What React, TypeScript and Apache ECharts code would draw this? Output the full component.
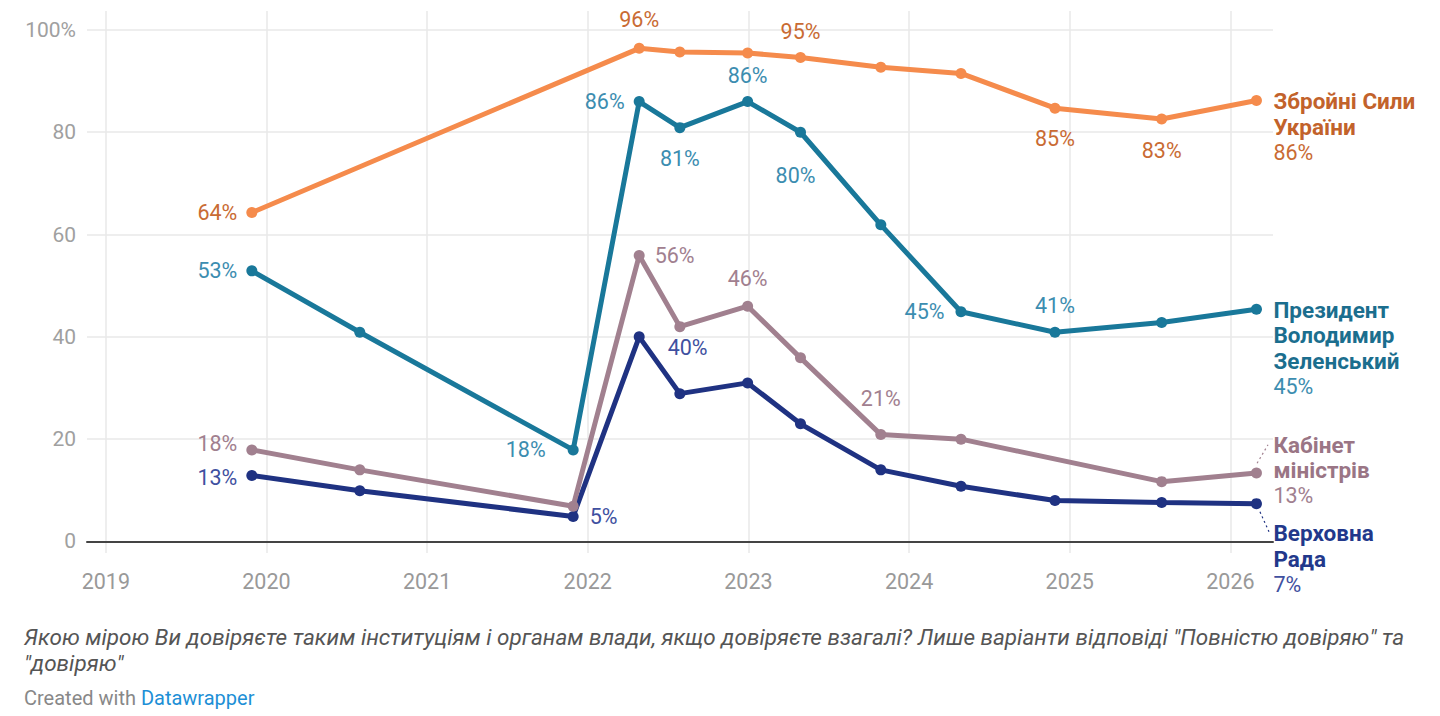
import React, { useEffect, useRef } from 'react';
import * as echarts from 'echarts';

// ---- data ----
const surveyDates = [2019.909, 2020.581, 2021.909, 2022.32, 2022.573, 2022.995, 2023.324, 2023.824, 2024.323, 2024.908, 2025.572, 2026.162];
const armyValues = [64.3, null, null, 96.4, 95.7, 95.5, 94.6, 92.7, 91.5, 84.7, 82.6, 86.2];
const presidentValues = [52.9, 40.9, 17.9, 86.0, 80.9, 86.0, 80.0, 61.9, 44.9, 40.9, 42.8, 45.4];
const cabinetValues = [17.9, 14.0, 6.9, 55.9, 42.0, 46.0, 35.9, 20.9, 20.0, null, 11.7, 13.4];
const radaValues = [12.9, 9.9, 4.9, 40.0, 28.9, 31.0, 23.0, 14.0, 10.8, 8.0, 7.6, 7.4];

const xTicks = [2019, 2020, 2021, 2022, 2023, 2024, 2025, 2026];
const yTicks = [0, 20, 40, 60, 80, 100];

const endLabelLines = [
  ['Збройні Сили', 'України'],
  ['Президент', 'Володимир', 'Зеленський'],
  ['Кабінет', 'міністрів'],
  ['Верховна', 'Рада'],
];
const captionLines = [
  'Якою мірою Ви довіряєте таким інституціям і органам влади, якщо довіряєте взагалі? Лише варіанти відповіді "Повністю довіряю" та',
  '"довіряю"',
];
const creditPrefix = 'Created with ';
const creditLink = 'Datawrapper';

// ---- layout / style ----
const FONT = 'Roboto, "Noto Sans", sans-serif';
const LABEL_SIZE = 21.5;
const styles = [
  { line: '#f58b4c', label: '#c96b33', name: '#c2622b', pct: '#c96b33' },
  { line: '#19789a', label: '#3c8db0', name: '#1b6e8e', pct: '#3c8db0' },
  { line: '#a1808f', label: '#a1808f', name: '#9a7585', pct: '#a1808f' },
  { line: '#1f3282', label: '#4050a0', name: '#22388b', pct: '#4050a0' },
];
// index -> [position, distance, dx, dy]
const labelPlacement: Record<number, [string, number, number, number]>[] = [
  { 0: ['left', 9, 0, 0], 3: ['top', 12, 0, 0], 6: ['top', 10, 0, 0], 9: ['bottom', 14, 0, 0], 10: ['bottom', 15, 0, 0] },
  { 0: ['left', 9, 0, 0], 2: ['left', 22, 0, 0], 3: ['left', 9, 0, 0], 4: ['bottom', 14, 0, 0], 5: ['top', 10, 0, 0], 6: ['bottom', 27, -5, 0], 8: ['left', 11, 0, 0], 9: ['top', 10, 0, 0] },
  { 0: ['left', 9, 0, -6], 3: ['right', 10, 0, 0], 5: ['top', 11, 0, 0], 7: ['top', 20, 0, 0] },
  { 0: ['left', 9, 0, 2], 2: ['right', 11, 0, 0], 3: ['right', 23, 0, 11] },
];
const endLabelOffsetY = [-12, -12, -41, 17];
const leaders: (number[][] | null)[] = [
  null,
  null,
  [[2026.166, 15.3], [2026.234, 18.9]],
  [[2026.184, 5.8], [2026.24, 1.9]],
];

export default function App() {
  const ref = useRef<HTMLDivElement>(null);
  useEffect(() => {
    if (!ref.current) return;
    const chart = echarts.init(ref.current, null, { renderer: 'svg' });
    const all = [armyValues, presidentValues, cabinetValues, radaValues];
    const LH = 25.5;
    const series = all.map((vals, si) => {
      const st = styles[si];
      const data = vals.map((v, i) => {
        const pl = labelPlacement[si][i];
        const item: any = { value: [surveyDates[i], v] };
        if (pl && v !== null) {
          item.label = {
            show: true,
            position: pl[0],
            distance: pl[1],
            offset: [pl[2], pl[3]],
            formatter: Math.round(v as number) + '%',
            color: st.label,
            fontSize: LABEL_SIZE,
            fontFamily: FONT,
          };
        }
        return item;
      });
      const lastVal = vals[vals.length - 1] as number;
      const s: any = {
        type: 'line',
        data,
        connectNulls: true,
        symbol: 'circle',
        symbolSize: 11,
        showAllSymbol: true,
        lineStyle: { color: st.line, width: 5 },
        itemStyle: { color: st.line },
        label: { show: false },
        emphasis: { disabled: true },
        silent: true,
        z: 10 - si,
        endLabel: {
          show: true,
          distance: 17,
          verticalAlign: 'top',
          offset: [0, endLabelOffsetY[si]],
          formatter: () =>
            endLabelLines[si].map((l) => '{n|' + l + '}').join('\n') + '\n{p|' + Math.round(lastVal) + '%}',
          rich: {
            n: { fontSize: 22.5, fontWeight: 'bold', color: st.name, lineHeight: LH, fontFamily: FONT },
            p: { fontSize: LABEL_SIZE, color: st.pct, lineHeight: LH, fontFamily: FONT },
          },
        },
      };
      const ld = leaders[si];
      if (ld) {
        s.markLine = {
          silent: true,
          symbol: 'none',
          label: { show: false },
          lineStyle: { color: st.line, type: [2, 3], width: 1.2 },
          data: [[{ coord: ld[0] }, { coord: ld[1] }]],
        };
      }
      return s;
    });

    chart.setOption({
      animation: false,
      grid: { left: 87, right: 167, top: 11, bottom: 163, containLabel: false },
      xAxis: {
        type: 'value',
        min: 2018.883,
        max: 2026.265,
        axisLine: { show: true, onZero: true, lineStyle: { color: '#444', width: 2 } },
        axisTick: { show: false, customValues: xTicks },
        axisLabel: {
          customValues: xTicks,
          formatter: (v: number) => String(v),
          color: '#999',
          fontSize: LABEL_SIZE,
          fontFamily: FONT,
          margin: 17,
        },
        splitLine: { show: true, lineStyle: { color: '#e8e8e8', width: 1.5 } },
      },
      yAxis: {
        type: 'value',
        min: -2.25,
        max: 103.7,
        axisLine: { show: false },
        axisTick: { show: false, customValues: yTicks },
        axisLabel: {
          customValues: yTicks,
          formatter: (v: number) => (v === 100 ? '100%' : String(v)),
          color: '#a0a0a0',
          fontSize: 21,
          fontFamily: FONT,
          margin: 11,
        },
        splitLine: { show: true, lineStyle: { color: '#e8e8e8', width: 1.5 } },
      },
      series,
      graphic: [
        {
          type: 'text',
          left: 24,
          top: 624,
          style: {
            text: captionLines.join('\n'),
            fontSize: 22.5,
            fontStyle: 'italic',
            fontFamily: FONT,
            fill: '#555',
            lineHeight: 26,
          },
        },
        {
          type: 'text',
          left: 24,
          top: 688,
          style: {
            text: '{a|' + creditPrefix + '}{b|' + creditLink + '}',
            rich: {
              a: { fontSize: 20, fontFamily: FONT, fill: '#888', color: '#888' },
              b: { fontSize: 20, fontFamily: FONT, fill: '#1d8fd6', color: '#1d8fd6' },
            },
          },
        },
      ],
    });
    return () => chart.dispose();
  }, []);
  return (
    <div
      ref={ref}
      style={{ position: 'absolute', left: 0, top: 0, width: 1440, height: 716, background: '#fff' }}
    />
  );
}
